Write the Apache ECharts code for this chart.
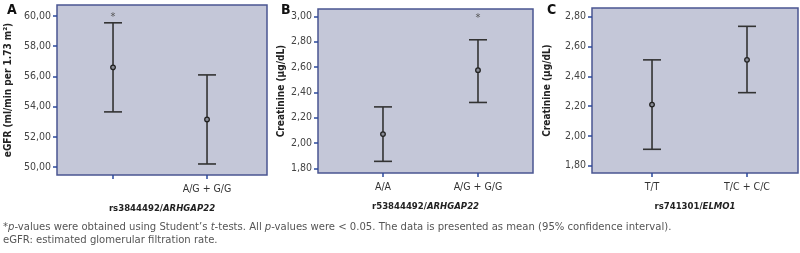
<!DOCTYPE html>
<html>
<head>
<meta charset="utf-8">
<script src="https://cdn.jsdelivr.net/npm/echarts@6/dist/echarts.min.js"></script>
<style>
  html, body { margin: 0; padding: 0; background: #fff; }
  #chart { width: 800px; height: 253px; }
</style>
</head>
<body>
<div id="chart"></div>
<script>
// panel A: eGFR by rs3844492
const catsA = ['', 'A/G + G/G'];
const meanA = [56.6, 53.15];
const lowA = [53.65, 50.2];
const highA = [59.55, 56.1];
const ticksA = [50, 52, 54, 56, 58, 60];

// panel B: creatinine by rs53844492
const catsB = ['A/A', 'A/G + G/G'];
const meanB = [2.07, 2.575];
const lowB = [1.855, 2.32];
const highB = [2.285, 2.815];
const ticksB = [1.8, 2.0, 2.2, 2.4, 2.6, 2.8, 3.0];

// panel C: creatinine by rs741301
const catsC = ['T/T', 'T/C + C/C'];
const meanC = [2.21, 2.51];
const lowC = [1.91, 2.29];
const highC = [2.51, 2.735];
const ticksC = [1.8, 2.0, 2.2, 2.4, 2.6, 2.8];

// significance markers: [category index, value]
const starA = [0, 60.1];
const starB = [1, 3.01];

const FONT = '"Liberation Sans Narrow", "DejaVu Sans Condensed", "Liberation Sans", sans-serif';
const BOX_BG = '#c4c7d8';
const BOX_BORDER = '#4a5591';
const TICK = '#2c4a9c';
const BAR = '#333333';

const chart = echarts.init(document.getElementById('chart'));

function fmt(v) { return v.toFixed(2).replace('.', ','); }

function errData(low, high, mean) {
    return mean.map((m, i) => [i, low[i], high[i], m]);
}

function renderBar(params, api) {
    const x = api.value(0);
    const lo = api.coord([x, api.value(1)]);
    const hi = api.coord([x, api.value(2)]);
    const m = api.coord([x, api.value(3)]);
    const cap = 9;
    const st = { stroke: BAR, lineWidth: 1.6 };
    return {
        type: 'group',
        children: [
            { type: 'line', shape: { x1: lo[0], y1: lo[1], x2: hi[0], y2: hi[1] }, style: st },
            { type: 'line', shape: { x1: lo[0] - cap, y1: lo[1], x2: lo[0] + cap, y2: lo[1] }, style: st },
            { type: 'line', shape: { x1: hi[0] - cap, y1: hi[1], x2: hi[0] + cap, y2: hi[1] }, style: st },
            { type: 'circle', shape: { cx: m[0], cy: m[1], r: 2.3 }, style: { fill: '#8a8c96', stroke: '#222', lineWidth: 1.3 } }
        ]
    };
}

// asterisk drawn at a data point (glyph sits high in its box, so nudge down)
function renderStar(params, api) {
    const p = api.coord([api.value(0), api.value(1)]);
    return {
        type: 'text', x: p[0], y: p[1] + 3,
        style: { text: '*', fill: '#555', font: '11px ' + FONT, align: 'center', verticalAlign: 'middle' }
    };
}

const grids = [
    { left: 57, top: 5, width: 210, height: 170 },
    { left: 318, top: 9, width: 215, height: 164 },
    { left: 592, top: 8, width: 206, height: 165 }
];

const panels = [
    { cats: catsA, ticks: ticksA, min: 49.47, max: 60.73, xmin: -0.596, xmax: 1.638,
      yname: 'eGFR (ml/min per 1.73 m²)', ygap: 44,
      xname: '{n|rs3844492/}{i|ARHGAP22}', data: errData(lowA, highA, meanA) },
    { cats: catsB, ticks: ticksB, min: 1.763, max: 3.058, xmin: -0.684, xmax: 1.579,
      yname: 'Creatinine (µg/dL)', ygap: 32,
      xname: '{n|r53844492/}{i|ARHGAP22}', data: errData(lowB, highB, meanB) },
    { cats: catsC, ticks: ticksC, min: 1.751, max: 2.858, xmin: -0.632, xmax: 1.537,
      yname: 'Creatinine (µg/dL)', ygap: 40,
      xname: '{n|rs741301/}{i|ELMO1}', data: errData(lowC, highC, meanC) }
];

function starSeries(idx, pt) {
    return {
        type: 'custom', xAxisIndex: idx, yAxisIndex: idx,
        renderItem: renderStar, encode: { x: 0, y: 1 },
        data: [pt], z: 4
    };
}

const option = {
    animation: false,
    textStyle: { fontFamily: FONT },
    grid: grids.map(g => Object.assign({
        show: true, backgroundColor: BOX_BG, borderColor: BOX_BORDER, borderWidth: 1.5
    }, g)),
    xAxis: panels.map((p, i) => ({
        type: 'value', gridIndex: i, min: p.xmin, max: p.xmax,
        splitLine: { show: false },
        axisLine: { show: false, onZero: false },
        axisTick: { show: true, customValues: [0, 1], length: 4, lineStyle: { color: TICK, width: 1.5 } },
        axisLabel: {
            customValues: [0, 1], margin: 9, color: '#333', fontSize: 10.5, fontFamily: FONT,
            formatter: v => p.cats[Math.round(v)]
        },
        name: p.xname, nameLocation: 'middle', nameGap: 29,
        nameTextStyle: {
            rich: {
                n: { fontFamily: FONT, fontWeight: 'bold', fontSize: 9.5, color: '#222' },
                i: { fontFamily: FONT, fontWeight: 'bold', fontStyle: 'italic', fontSize: 9.5, color: '#222' }
            }
        }
    })),
    yAxis: panels.map((p, i) => ({
        type: 'value', gridIndex: i, min: p.min, max: p.max,
        splitLine: { show: false },
        axisLine: { show: false, onZero: false },
        axisTick: { show: true, customValues: p.ticks, length: 4, lineStyle: { color: TICK, width: 1.5 } },
        axisLabel: {
            customValues: p.ticks, margin: 6, color: '#444', fontSize: 10.5, fontFamily: FONT,
            formatter: v => fmt(v)
        },
        name: p.yname, nameLocation: 'middle', nameGap: p.ygap,
        nameTextStyle: { fontFamily: FONT, fontWeight: 'bold', fontSize: 10, color: '#222' }
    })),
    series: panels.map((p, i) => ({
        type: 'custom', xAxisIndex: i, yAxisIndex: i,
        renderItem: renderBar,
        encode: { x: 0, y: [1, 2, 3] },
        data: p.data,
        z: 3
    })).concat([starSeries(0, starA), starSeries(1, starB)]),
    graphic: [
        { type: 'text', left: 7, top: 3, style: { text: 'A', font: 'bold 14px ' + FONT, fill: '#111' } },
        { type: 'text', left: 281, top: 3, style: { text: 'B', font: 'bold 14px ' + FONT, fill: '#111' } },
        { type: 'text', left: 547, top: 3, style: { text: 'C', font: 'bold 14px ' + FONT, fill: '#111' } },
        { type: 'text', left: 3, top: 222, style: {
            text: '{s|*}{i|p}{s|-values were obtained using Student’s }{i|t}{s|-tests. All }{i|p}{s|-values were < 0.05. The data is presented as mean (95% confidence interval).}',
            rich: {
                s: { fontFamily: FONT, fontSize: 11.2, fill: '#555' },
                i: { fontFamily: FONT, fontSize: 11.2, fontStyle: 'italic', fill: '#555' }
            }
        } },
        { type: 'text', left: 3, top: 235, style: { text: 'eGFR: estimated glomerular filtration rate.', font: '11.2px ' + FONT, fill: '#555' } }
    ]
};

chart.setOption(option);
</script>
</body>
</html>
